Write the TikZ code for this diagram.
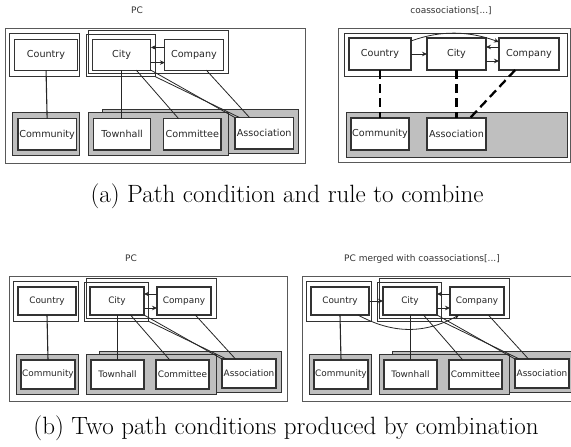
\documentclass[tikz,border=0pt]{standalone}
\usepackage{fontspec}
\newfontfamily\dvsans{DejaVu Sans}
\usetikzlibrary{arrows.meta,calc}

% box given by its corners: style, name, x1, y1, x2, y2, text
\newcommand{\cbox}[7]{\node[#1, minimum width={#5-#3}, minimum height={#6-#4}] (#2) at ({(#3+#5)/2},{(#4+#6)/2}) {#7};}

\tikzset{
  panel/.style={draw=black!65, line width=0.9pt},
  grpbox/.style={draw=black!80, line width=0.9pt, inner sep=0pt, outer sep=0pt},
  grayg/.style={draw=black!80, fill=black!25, line width=0.9pt, inner sep=0pt, outer sep=0pt},
  box/.style={draw=black!80, fill=white, line width=1.2pt, inner sep=0pt, outer sep=0pt,
              font=\dvsans\fontsize{8.9}{10}\selectfont, text=black!85},
  boxL/.style={box, font=\dvsans\fontsize{9.6}{11}\selectfont},
  edge/.style={draw=black!85, line width=0.8pt},
  arr/.style={edge, -{Stealth[length=5pt,width=4.5pt]}},
  dsh/.style={draw=black, line width=2.3pt, dash pattern=on 9pt off 5pt},
  ttl/.style={font=\dvsans\fontsize{9}{10}\selectfont, text=black!80},
  captext/.style={font=\fontsize{25}{29}\selectfont},
}

% the path condition PC, in its own frame; #1 prefixes the node names
\newcommand{\pcgraph}[1]{%
  \draw[panel] (0,0) rectangle (278,125);
  \cbox{grpbox}{#1cg}{4}{5}{69}{45}{}
  \cbox{box}{#1country}{9}{11}{67}{39}{Country}
  \cbox{grpbox}{#1big}{77}{2}{207}{42}{}
  \cbox{grpbox}{#1cityg}{75}{6}{139}{45}{}
  \cbox{box}{#1city}{81}{11}{135}{39}{City}
  \cbox{box}{#1company}{148}{11}{202}{39}{Company}
  \cbox{grayg}{#1comg}{7}{78}{69}{118}{}
  \cbox{box}{#1community}{12}{84}{66}{113}{Community}
  \cbox{grayg}{#1backg}{90}{75}{272}{116}{}
  \cbox{grayg}{#1frontg}{77}{78}{207}{118}{}
  \cbox{box}{#1townhall}{82}{84}{135}{113}{Townhall}
  \cbox{box}{#1committee}{147}{84}{200}{113}{Committee}
  \cbox{box}{#1association}{213}{83}{267}{112}{Association}
  \draw[edge, line width=1.1pt] (#1country.south) -- (#1community.north);
  \draw[edge] (#1city.south) -- (#1city.south |- #1townhall.north);
  \draw[edge] ($(#1city.south west)!0.75!(#1city.south east)$) -- ($(#1committee.north west)!0.26!(#1committee.north east)$);
  \draw[edge] (#1city.south east) -- (#1association.north west);
  \draw[edge] (#1cityg.south east) -- ($(#1association.north west)!0.08!(#1association.north east)$);
  \draw[edge] ($(#1company.south west)!0.71!(#1company.south east)$) -- ($(#1association.north west)!0.25!(#1association.north east)$);
  \draw[arr] ([yshift=7pt]#1company.west) -- ([yshift=7pt]#1city.east);
  \draw[arr] ([yshift=-7pt]#1city.east) -- ([yshift=-7pt]#1company.west);
}

\begin{document}
\begin{tikzpicture}[x=1pt, y=-1pt]
\useasboundingbox (0,0) rectangle (571,447);

% (a) left: PC
\node[ttl] (tA) at (137,10) {PC};
\begin{scope}[shift={(5,28)}, scale=1.08, transform shape]
  \pcgraph{a}
\end{scope}

% (a) right: the rule coassociations
\node[ttl] (tB) at (451,11) {coassociations[...]};
\draw[panel] (338,28) rectangle (570,162);
\cbox{grpbox}{bg}{344}{33}{567}{76}{}
\cbox{boxL}{bcountry}{349}{38}{411}{70}{Country}
\cbox{boxL}{bcity}{427}{38}{486}{70}{City}
\cbox{boxL}{bcompany}{499}{38}{559}{70}{Company}
\cbox{grayg}{bgray}{346}{112}{567}{157}{}
\cbox{boxL}{bcommunity}{351}{118}{409}{150}{Community}
\cbox{boxL}{bassociation}{427}{118}{486}{150}{Association}
\draw[arr] (bcountry.east) -- (bcity.west);
\draw[arr] ([yshift=7pt]bcompany.west) -- ([yshift=7pt]bcity.east);
\draw[arr] ([yshift=-7pt]bcity.east) -- ([yshift=-7pt]bcompany.west);
\draw[arr] ([yshift=-3pt]bcountry.north east) .. controls +(30,-11) and +(-30,-11) .. ([yshift=-4pt]bcompany.north west);
\draw[dsh] (bcountry.south) -- (bcountry.south |- bcommunity.north);
\draw[dsh] (bcity.south) -- (bcity.south |- bassociation.north);
\draw[dsh] ($(bcompany.south west)!0.27!(bcompany.south east)$) -- ($(bassociation.north west)!0.73!(bassociation.north east)$);

\node[captext] (capA) at (287,196) {(a) Path condition and rule to combine};

% (b) left: PC
\node[ttl] (tC) at (131,258) {PC};
\begin{scope}[shift={(9,276)}]
  \pcgraph{c}
\end{scope}

% (b) right: PC merged with the rule
\node[ttl] (tD) at (422,259) {PC merged with coassociations[...]};
\begin{scope}[shift={(302,276)}]
  \pcgraph{d}
  \draw[arr] (dcountry.east) -- (dcity.west);
  \draw[arr] ($(dcountry.south west)!0.81!(dcountry.south east)$) .. controls +(35,19) and +(-35,19) .. ($(dcompany.south west)!0.17!(dcompany.south east)$);
\end{scope}

\node[captext] (capB) at (286,428) {(b) Two path conditions produced by combination};
\end{tikzpicture}
\end{document}
